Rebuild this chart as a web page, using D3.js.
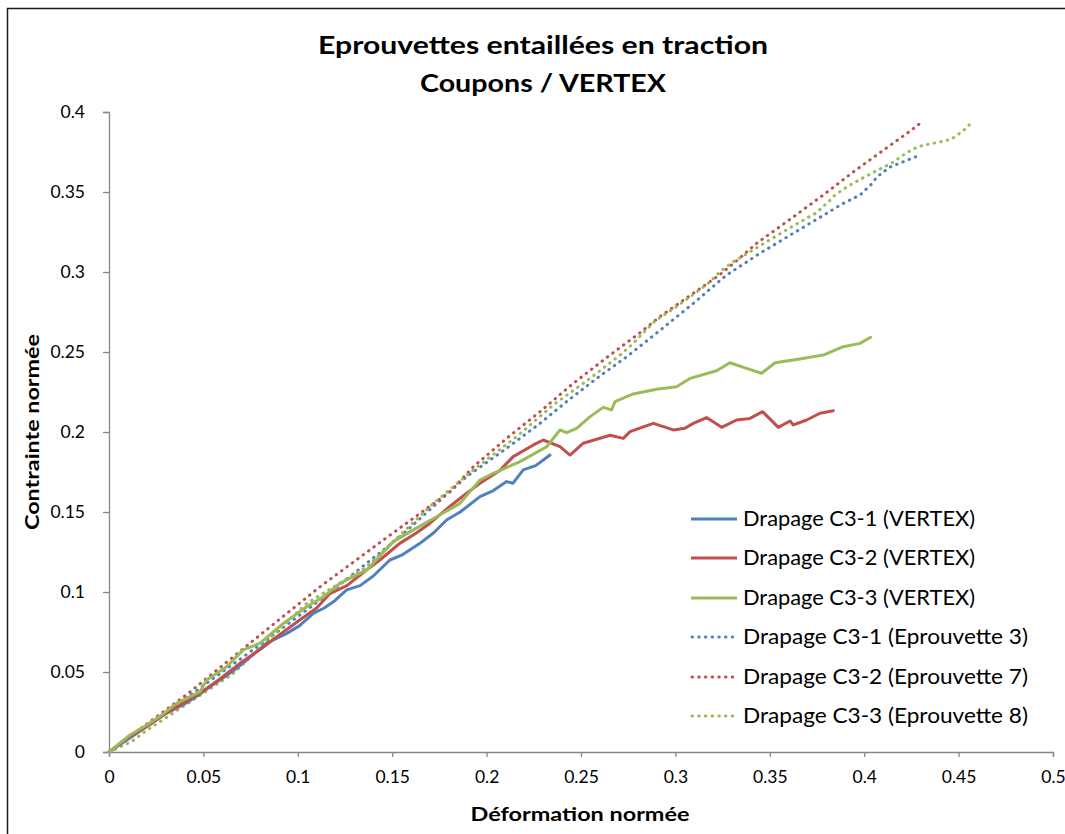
<!DOCTYPE html>
<html><head><meta charset="utf-8">
<script src="https://cdn.jsdelivr.net/npm/d3@7"></script>
<style>html,body{margin:0;padding:0;background:#fff;}svg{display:block;}</style>
</head><body>
<svg id="chart" width="1065" height="834"></svg>
<script>
const titleLines = ["Eprouvettes entaillées en traction", "Coupons / VERTEX"];
const xAxisTitle = "Déformation normée";
const yAxisTitle = "Contrainte normée";
const xTicks = [0,0.05,0.1,0.15,0.2,0.25,0.3,0.35,0.4,0.45,0.5];
const yTicks = [0,0.05,0.1,0.15,0.2,0.25,0.3,0.35,0.4];
const seriesNames = ["Drapage C3-1 (VERTEX)","Drapage C3-2 (VERTEX)","Drapage C3-3 (VERTEX)","Drapage C3-1 (Eprouvette 3)","Drapage C3-2 (Eprouvette 7)","Drapage C3-3 (Eprouvette 8)"];

const vertex1 = [[0,0],[0.010,0.008],[0.020,0.016],[0.030,0.024],[0.040,0.030],[0.0447,0.0335],[0.055,0.042],[0.065,0.050],[0.0729,0.0575],[0.0835,0.068],[0.087,0.070],[0.094,0.074],[0.101,0.079],[0.1082,0.0867],[0.114,0.090],[0.119,0.094],[0.1259,0.1013],[0.133,0.104],[0.140,0.110],[0.1488,0.120],[0.155,0.123],[0.1647,0.1304],[0.172,0.137],[0.1788,0.145],[0.186,0.150],[0.1965,0.1596],[0.203,0.163],[0.2106,0.169],[0.214,0.168],[0.2194,0.1763],[0.226,0.179],[0.2336,0.1856]];
const vertex2 = [[0,0],[0.010,0.009],[0.020,0.016],[0.030,0.024],[0.040,0.031],[0.0482,0.0367],[0.058,0.045],[0.0694,0.0554],[0.080,0.064],[0.090,0.073],[0.101,0.0825],[0.110,0.090],[0.117,0.099],[0.126,0.104],[0.1365,0.1138],[0.1435,0.120],[0.154,0.1304],[0.163,0.137],[0.170,0.143],[0.180,0.153],[0.1894,0.1617],[0.1965,0.1679],[0.207,0.176],[0.2141,0.1846],[0.2248,0.1919],[0.230,0.195],[0.2389,0.1908],[0.2442,0.1856],[0.2512,0.193],[0.2654,0.198],[0.2724,0.196],[0.276,0.2002],[0.2883,0.2054],[0.2989,0.2013],[0.305,0.2023],[0.3095,0.2054],[0.3165,0.209],[0.3245,0.2029],[0.3324,0.2075],[0.3395,0.2085],[0.3462,0.2127],[0.3545,0.2029],[0.3607,0.2069],[0.3625,0.2044],[0.3695,0.2075],[0.3766,0.2117],[0.3836,0.2133]];
const vertex3 = [[0,0],[0.0111,0.0106],[0.020,0.0169],[0.0279,0.0231],[0.0358,0.0304],[0.0482,0.0377],[0.0517,0.045],[0.0623,0.0533],[0.0711,0.0638],[0.080,0.068],[0.0923,0.0804],[0.1047,0.0908],[0.1135,0.097],[0.1223,0.1054],[0.1365,0.1138],[0.1506,0.1315],[0.1612,0.1388],[0.1735,0.147],[0.1859,0.1554],[0.1965,0.170],[0.2036,0.1742],[0.2177,0.1815],[0.2318,0.1908],[0.2389,0.2013],[0.2424,0.1996],[0.2477,0.2023],[0.2548,0.2096],[0.2618,0.2154],[0.2662,0.2138],[0.268,0.219],[0.2777,0.2238],[0.290,0.2267],[0.3006,0.2283],[0.3077,0.2335],[0.3218,0.2383],[0.3289,0.2433],[0.3377,0.2398],[0.3456,0.2367],[0.3528,0.2433],[0.365,0.2455],[0.3783,0.2481],[0.3889,0.2533],[0.3978,0.2554],[0.4034,0.2592]];
const eprouvette3 = [[0,0],[0.0447,0.037],[0.0835,0.070],[0.1188,0.1013],[0.1541,0.1346],[0.1894,0.1721],[0.2106,0.1898],[0.2283,0.2054],[0.2424,0.219],[0.2583,0.2335],[0.2742,0.247],[0.2892,0.261],[0.3095,0.2804],[0.3271,0.2981],[0.3448,0.3117],[0.3624,0.3242],[0.3748,0.3329],[0.3889,0.3429],[0.3978,0.3481],[0.4039,0.355],[0.4066,0.3592],[0.4133,0.3654],[0.4296,0.3731]];
const eprouvette7 = [[0,0],[0.042,0.0367],[0.080,0.0731],[0.1118,0.1033],[0.1453,0.1325],[0.1806,0.1627],[0.193,0.1783],[0.2106,0.196],[0.2283,0.2127],[0.2459,0.2304],[0.2636,0.2465],[0.2812,0.262],[0.2918,0.2721],[0.3095,0.2867],[0.3233,0.2981],[0.3333,0.3079],[0.343,0.3179],[0.3607,0.3329],[0.3783,0.3481],[0.3956,0.3638],[0.4098,0.3758],[0.4239,0.3877],[0.4308,0.394]];
const eprouvette8 = [[0,0],[0.012,0.0065],[0.019,0.0127],[0.0658,0.049],[0.1047,0.0929],[0.1365,0.1158],[0.1718,0.1554],[0.193,0.1763],[0.2159,0.1971],[0.2353,0.2169],[0.2548,0.2335],[0.2707,0.2481],[0.2768,0.2544],[0.283,0.262],[0.2892,0.2694],[0.2998,0.2777],[0.3104,0.2867],[0.3174,0.2929],[0.3236,0.3002],[0.3306,0.3064],[0.3377,0.3113],[0.3528,0.3221],[0.3641,0.33],[0.3748,0.3371],[0.3815,0.3444],[0.3845,0.3481],[0.3916,0.3538],[0.3995,0.3589],[0.4066,0.3633],[0.4145,0.368],[0.4216,0.3738],[0.4257,0.3767],[0.4296,0.3787],[0.4339,0.3798],[0.438,0.3808],[0.4419,0.3817],[0.4463,0.3831],[0.4498,0.386],[0.4534,0.3892],[0.4564,0.3929]];

const seriesData = [vertex1, vertex2, vertex3, eprouvette3, eprouvette7, eprouvette8];
const colors = ["#4F81BD","#C0504D","#9BBB59","#4F81BD","#C0504D","#9BBB59"];
const dotted = [false,false,false,true,true,true];

const svg = d3.select("#chart");
const FONT = "Lato, 'Open Sans', sans-serif";
const plot = {left:109, right:1053, top:112, bottom:752};

svg.append("rect").attr("x",7.5).attr("y",8.5).attr("width",1200).attr("height",1000)
  .attr("fill","#fff").attr("stroke","#1a1a1a").attr("stroke-width",1.5);

const x = d3.scaleLinear().domain([0,0.5]).range([plot.left, plot.right]);
const y = d3.scaleLinear().domain([0,0.4]).range([plot.bottom, plot.top]);

svg.append("text").attr("x",543).attr("y",54).attr("text-anchor","middle")
  .attr("font-family",FONT).attr("font-weight","bold").attr("font-size",25).attr("fill","#000")
  .attr("textLength",450).attr("lengthAdjust","spacingAndGlyphs").text(titleLines[0]);
svg.append("text").attr("x",543).attr("y",92).attr("text-anchor","middle")
  .attr("font-family",FONT).attr("font-weight","bold").attr("font-size",25).attr("fill","#000")
  .attr("textLength",246).attr("lengthAdjust","spacingAndGlyphs").text(titleLines[1]);

const fmt = d => String(+d.toFixed(2));
const xAxis = d3.axisBottom(x).tickValues(xTicks).tickSize(5).tickPadding(14).tickFormat(fmt);
const gx = svg.append("g").attr("transform",`translate(0,${plot.bottom})`).call(xAxis);
const yAxis = d3.axisLeft(y).tickValues(yTicks).tickSize(6).tickPadding(18).tickFormat(fmt);
const gy = svg.append("g").attr("transform",`translate(${plot.left},0)`).call(yAxis);
[gx,gy].forEach(g => {
  g.select(".domain").attr("stroke","#868686").attr("stroke-width",1.3);
  g.selectAll(".tick line").attr("stroke","#868686").attr("stroke-width",1.3);
  g.selectAll(".tick text").attr("font-family",FONT).attr("font-size",17.5).attr("fill","#000");
});

svg.append("text").attr("x",580).attr("y",821).attr("text-anchor","middle")
  .attr("font-family",FONT).attr("font-weight","bold").attr("font-size",19).attr("fill","#000")
  .attr("textLength",219).attr("lengthAdjust","spacingAndGlyphs").text(xAxisTitle);
svg.append("text").attr("transform","translate(39,432) rotate(-90)").attr("text-anchor","middle")
  .attr("font-family",FONT).attr("font-weight","bold").attr("font-size",19).attr("fill","#000")
  .attr("textLength",196).attr("lengthAdjust","spacingAndGlyphs").text(yAxisTitle);

const line = d3.line().x(d => x(d[0])).y(d => y(d[1])).curve(d3.curveLinear);
const order = [3,4,5,0,1,2];
order.forEach(i => {
  const p = svg.append("path").datum(seriesData[i]).attr("d",line)
    .attr("fill","none").attr("stroke",colors[i]).attr("stroke-linejoin","round")
    .attr("stroke-width",3).attr("stroke-linecap","round");
  if (dotted[i]) p.attr("stroke-dasharray","0.5 6.2");
});

const legY = [519,558,598,637,677,716];
const legW = [232,232,232,285,285,285];
seriesNames.forEach((name,i) => {
  const g = svg.append("g");
  const ln = g.append("line").attr("x1",691).attr("x2",737).attr("y1",legY[i]).attr("y2",legY[i])
    .attr("stroke",colors[i]).attr("stroke-width",3);
  if (dotted[i]) ln.attr("stroke-linecap","round").attr("stroke-dasharray","0.5 6.2").attr("x1",692).attr("x2",735);
  g.append("text").attr("x",743).attr("y",legY[i]).attr("dy","0.36em")
    .attr("font-family",FONT).attr("font-size",20.5).attr("fill","#000")
    .attr("textLength",legW[i]).attr("lengthAdjust","spacingAndGlyphs").text(name);
});
</script>
</body></html>
